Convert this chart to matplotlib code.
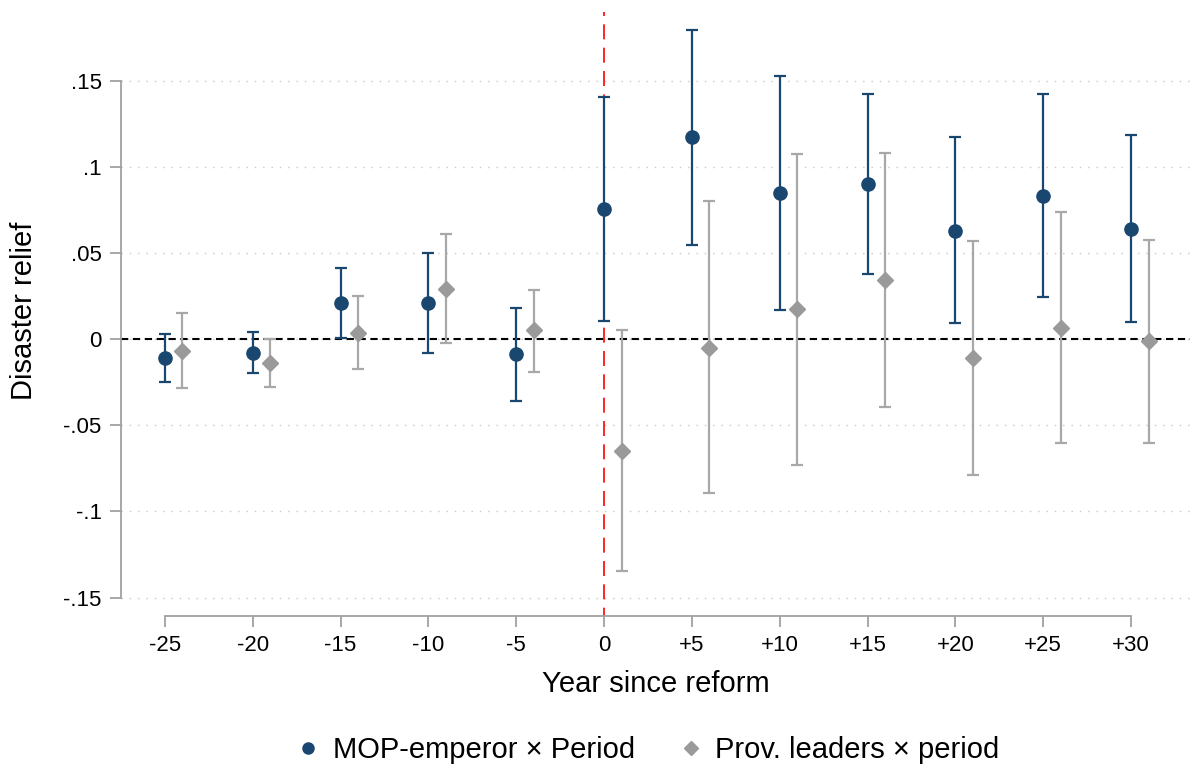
import matplotlib
matplotlib.use("Agg")
import matplotlib.pyplot as plt
from matplotlib.lines import Line2D
import numpy as np

plt.rcParams["font.family"] = ["Liberation Sans", "DejaVu Sans"]

# event-time positions (years since reform)
years = [-25, -20, -15, -10, -5, 0, 5, 10, 15, 20, 25, 30]
year_labels = ["-25", "-20", "-15", "-10", "-5", "0", "+5", "+10", "+15", "+20", "+25", "+30"]

# MOP-emperor x Period
mop_coef = [-0.0112, -0.0081, 0.0207, 0.0207, -0.0089, 0.0754, 0.1172, 0.0849, 0.0901, 0.0628, 0.0833, 0.0638]
mop_lo = [-0.0251, -0.0197, 0.0004, -0.0083, -0.0360, 0.0103, 0.0547, 0.0170, 0.0379, 0.0091, 0.0244, 0.0097]
mop_hi = [0.0031, 0.0039, 0.0410, 0.0497, 0.0180, 0.1405, 0.1794, 0.1524, 0.1421, 0.1172, 0.1425, 0.1183]

# Prov. leaders x period
prov_coef = [-0.0070, -0.0141, 0.0037, 0.0292, 0.0052, -0.0650, -0.0050, 0.0172, 0.0342, -0.0112, 0.0066, -0.0013]
prov_lo = [-0.0282, -0.0277, -0.0176, -0.0025, -0.0191, -0.1346, -0.0895, -0.0729, -0.0397, -0.0790, -0.0605, -0.0601]
prov_hi = [0.0149, 0.0000, 0.0249, 0.0607, 0.0284, 0.0052, 0.0799, 0.1073, 0.1080, 0.0569, 0.0737, 0.0574]

y_ticks = [-0.15, -0.1, -0.05, 0, 0.05, 0.1, 0.15]
y_tick_labels = ["-.15", "-.1", "-.05", "0", ".05", ".1", ".15"]

BLUE = "#1a476f"
GRAY_MK = "#9a9a9a"
GRAY_LN = "#a8a8a8"
AXIS = "#a0a0a0"


def main():
    fig = plt.figure(figsize=(11.9, 7.69), dpi=100)
    ax = fig.add_axes([0.1017, 0.199, 0.8983, 0.7858])

    x = np.array(years, dtype=float)
    xp = x + 1.0

    mop_coef_a = np.array(mop_coef)
    prov_coef_a = np.array(prov_coef)
    mop_err = [mop_coef_a - np.array(mop_lo), np.array(mop_hi) - mop_coef_a]
    prov_err = [prov_coef_a - np.array(prov_lo), np.array(prov_hi) - prov_coef_a]

    for yt in y_ticks:
        ax.axhline(yt, color="#c8c8c8", lw=1.0, ls=(0, (1, 5)), zorder=0)
    ax.axhline(0, color="black", lw=1.5, ls=(0, (3.5, 2.2)), zorder=1)
    ax.axvline(0, color="red", lw=1.2, ls=(4, (9, 5)), zorder=1)

    ax.errorbar(x, mop_coef, yerr=mop_err, fmt="none", ecolor=BLUE,
                elinewidth=1.6, capsize=4.5, capthick=1.6, zorder=3)
    ax.plot(x, mop_coef, "o", color=BLUE, ms=9.5, zorder=4)

    ax.errorbar(xp, prov_coef, yerr=prov_err, fmt="none", ecolor=GRAY_LN,
                elinewidth=1.6, capsize=4.5, capthick=1.6, zorder=2)
    ax.plot(xp, prov_coef, "D", color=GRAY_MK, ms=8, zorder=3)

    ax.set_xlim(-27.5, 33.36)
    ax.set_ylim(-0.1607, 0.19)

    ax.set_xticks(years)
    ax.set_xticklabels(year_labels, fontsize=16)
    ax.set_yticks(y_ticks)
    ax.set_yticklabels(y_tick_labels, fontsize=16)
    ax.tick_params(axis="both", direction="out", length=8, width=1.3, color=AXIS, pad=6)

    for side in ["top", "right"]:
        ax.spines[side].set_visible(False)
    ax.spines["left"].set_bounds(-0.15, 0.15)
    ax.spines["bottom"].set_bounds(-25, 30)
    for side in ["left", "bottom"]:
        ax.spines[side].set_color(AXIS)
        ax.spines[side].set_linewidth(1.3)

    ax.set_xlabel("Year since reform", fontsize=21, labelpad=10)
    ax.set_ylabel("Disaster relief", fontsize=21)
    ax.yaxis.set_label_coords(-0.078, 0.505)

    handles = [
        Line2D([], [], ls="none", marker="o", color=BLUE, ms=8),
        Line2D([], [], ls="none", marker="D", color=GRAY_MK, ms=7),
    ]
    ax.legend(handles, ["MOP-emperor \u00d7 Period", "Prov. leaders \u00d7 period"],
              loc="center", bbox_to_anchor=(0.493, -0.222), ncol=2, frameon=False,
              fontsize=21, handlelength=0.8, handletextpad=0.45, columnspacing=1.5)

    fig.savefig("out.png", dpi=100)


if __name__ == "__main__":
    main()
